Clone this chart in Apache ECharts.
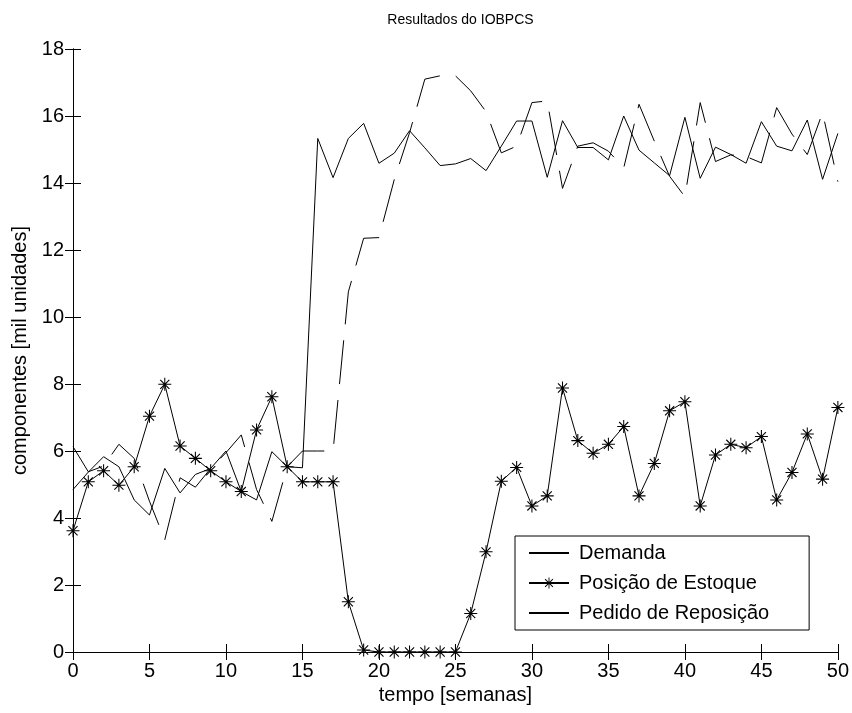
<!DOCTYPE html>
<html>
<head>
<meta charset="utf-8">
<script src="https://cdn.jsdelivr.net/npm/echarts@6/dist/echarts.min.js"></script>
<style>
html,body{margin:0;padding:0;background:#fff;}
#chart{width:852px;height:713px;}
</style>
</head>
<body>
<div id="chart"></div>
<script>
// weeks (x)
const semanas = [0,1,2,3,4,5,6,7,8,9,10,11,12,13,14,15,16,17,18,19,20,21,22,23,24,25,26,27,28,29,30,31,32,33,34,35,36,37,38,39,40,41,42,43,44,45,46,47,48,49,50];
// Demanda (solid)
const demanda = [4.85,5.37,5.83,5.53,4.54,4.09,5.48,4.75,5.3,5.48,6.0,4.79,4.54,5.98,5.53,5.5,
  15.33,14.16,15.33,15.78,14.59,14.89,15.56,15.05,14.52,14.57,14.73,14.37,15.1,15.85,15.85,14.17,
  15.86,15.06,15.06,14.69,16.0,14.98,14.6,14.22,15.96,14.14,15.07,14.85,14.59,15.83,15.1,14.96,15.88,14.11,15.48];
// Posição de Estoque (asterisks)
const estoque = [3.62,5.08,5.41,4.98,5.53,7.04,7.99,6.15,5.78,5.41,5.08,4.79,6.63,7.62,5.53,5.08,5.08,5.08,
  1.50,0.06,0,0,0,0,0,0,1.15,2.99,5.10,5.51,4.36,4.66,
  7.88,6.31,5.93,6.2,6.73,4.66,5.63,7.2,7.47,4.36,5.88,6.2,6.1,6.43,4.54,5.36,6.51,5.16,7.30];
// Pedido de Reposição (dashed)
const pedido = [6.13,5.38,5.55,6.2,5.78,4.5,3.35,5.2,4.92,5.48,5.95,6.48,4.85,3.9,5.53,6.0,6.0,6.0,
  10.75,12.35,12.37,14.1,15.5,17.1,17.2,17.2,16.75,16.13,14.9,15.1,16.4,16.45,
  13.84,15.1,15.2,14.95,14.45,16.35,15.25,14.2,13.59,16.4,14.64,14.84,14.79,14.6,16.25,15.46,14.85,16.1,14.04];

const xTicks = [0,5,10,15,20,25,30,35,40,45,50];
const yTicks = [0,2,4,6,8,10,12,14,16,18];

const FONT = '"Liberation Sans", Arial, Helvetica, sans-serif';
const FS = 20;
const pair = arr => semanas.map((x, i) => [x, arr[i]]);

const asterisk = 'path://M0 46L100 46L100 54L0 54Z M46 0L54 0L54 100L46 100Z M12 18L18 12L88 82L82 88Z M82 12L88 18L18 88L12 82Z';

const chart = echarts.init(document.getElementById('chart'), null, {renderer: 'canvas'});

const axisLine = {show: true, lineStyle: {color: '#000', width: 1}};
const axisTick = {show: true, inside: true, length: 8, lineStyle: {color: '#000', width: 1}};

chart.setOption({
  animation: false,
  backgroundColor: '#fff',
  title: {
    text: 'Resultados do IOBPCS',
    left: 455.5, top: 8, textAlign: 'center',
    textStyle: {fontFamily: FONT, fontSize: 14, fontWeight: 'normal', color: '#000'}
  },
  grid: {left: 73, right: 14, top: 49, bottom: 61, containLabel: false},
  legend: {
    orient: 'vertical',
    left: 515, top: 536,
    padding: [7, 40, 7, 13],
    itemWidth: 40, itemHeight: 14, itemGap: 10,
    borderColor: '#000', borderWidth: 1, borderRadius: 0,
    backgroundColor: '#fff',
    textStyle: {fontFamily: FONT, fontSize: FS, color: '#000', padding: [0, 0, 0, 5]},
    data: [
      {name: 'Demanda', itemStyle: {opacity: 0}},
      {name: 'Posição de Estoque'},
      {name: 'Pedido de Reposição', itemStyle: {opacity: 0}}
    ]
  },
  xAxis: [{
    type: 'value', min: 0, max: 50, interval: 5,
    name: 'tempo [semanas]', nameLocation: 'middle', nameGap: 29,
    nameTextStyle: {fontFamily: FONT, fontSize: FS, color: '#000'},
    axisLine: axisLine, axisTick: axisTick, splitLine: {show: false},
    axisLabel: {fontFamily: FONT, fontSize: FS, color: '#000', margin: 9}
  }, {
    type: 'value', min: 0, max: 50, interval: 5, position: 'top',
    axisLine: axisLine, axisTick: axisTick, splitLine: {show: false},
    axisLabel: {show: false}
  }],
  yAxis: [{
    type: 'value', min: 0, max: 18, interval: 2,
    name: 'componentes [mil unidades]', nameLocation: 'middle', nameGap: 40,
    nameTextStyle: {fontFamily: FONT, fontSize: FS, color: '#000'},
    axisLine: axisLine, axisTick: axisTick, splitLine: {show: false},
    axisLabel: {fontFamily: FONT, fontSize: FS, color: '#000', margin: 9}
  }, {
    type: 'value', min: 0, max: 18, interval: 2, position: 'right',
    axisLine: axisLine, axisTick: axisTick, splitLine: {show: false},
    axisLabel: {show: false}
  }],
  series: [{
    name: 'Demanda', type: 'line', data: pair(demanda),
    symbol: 'none', lineStyle: {color: '#000', width: 1}, itemStyle: {color: '#000'}, z: 3
  }, {
    name: 'Posição de Estoque', type: 'line', data: pair(estoque),
    symbol: asterisk, symbolSize: 13, showSymbol: true,
    lineStyle: {color: '#000', width: 1}, itemStyle: {color: '#000', borderWidth: 0}, z: 4
  }, {
    name: 'Pedido de Reposição', type: 'line', data: pair(pedido),
    symbol: 'none', lineStyle: {color: '#000', width: 1, type: [44, 16]}, itemStyle: {color: '#000'}, z: 2
  }]
});
</script>
</body>
</html>
